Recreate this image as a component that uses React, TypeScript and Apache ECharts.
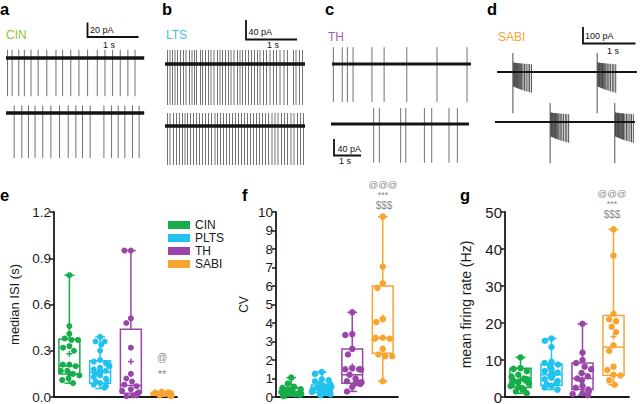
import React, { useEffect, useRef } from 'react';
import * as echarts from 'echarts';

const FONT = '"Liberation Sans", Arial, Helvetica, sans-serif';

const groups = ['CIN', 'PLTS', 'TH', 'SABI'];
const groupColors = ['#17ad4a', '#22c2ee', '#9a45a8', '#f8a431'];

// ---------- traces: spike times (s) ----------
const cinTopSpikes = [0.03, 0.12, 0.25, 0.36, 0.49, 0.63, 0.8, 0.98, 1.11, 1.27, 1.43, 1.6, 1.79, 1.94, 2.09, 2.24, 2.39, 2.53];
const cinBottomSpikes = [0.16, 0.31, 0.44, 0.57, 0.72, 0.88, 1.05, 1.22, 1.37, 1.5, 1.65, 1.92, 2.07, 2.2, 2.33, 2.48, 2.61];
const ltsTopSpikes = [0.05, 0.1, 0.15, 0.2, 0.25, 0.31, 0.37, 0.42, 0.49, 0.54, 0.59, 0.63, 0.71, 0.75, 0.81, 0.87, 0.92, 0.98, 1.05, 1.1, 1.15, 1.21, 1.27, 1.32, 1.38, 1.45, 1.5, 1.55, 1.61, 1.67, 1.73, 1.79, 1.85, 1.9, 1.97, 2.03, 2.1, 2.17, 2.23, 2.3, 2.38, 2.45, 2.57, 2.62, 2.69, 2.75];
const ltsBottomSpikes = [0.05, 0.1, 0.17, 0.23, 0.29, 0.35, 0.4, 0.45, 0.51, 0.57, 0.63, 0.69, 0.75, 0.81, 0.87, 0.93, 1.0, 1.05, 1.11, 1.17, 1.23, 1.29, 1.35, 1.41, 1.47, 1.53, 1.59, 1.65, 1.71, 1.77, 1.83, 1.89, 1.95, 2.01, 2.07, 2.14, 2.2, 2.26, 2.33, 2.39, 2.45, 2.52, 2.58, 2.65, 2.71, 2.77];
const thTopSpikes = [0.05, 0.38, 0.57, 0.78, 1.48, 1.93, 2.77, 3.89, 5.0];
const thBottomSpikes = [1.58, 1.79, 2.58, 2.77, 3.46, 3.73, 4.37, 4.68];
const sabiTopBursts = [0.3, 1.89];
const sabiBottomBursts = [1.04, 2.26];
const burstOffsets = [0, 0.014, 0.028, 0.042, 0.056, 0.07, 0.085, 0.1, 0.115, 0.13, 0.147, 0.165, 0.19, 0.22, 0.25, 0.285, 0.315, 0.35];
const burstUp = [115, 58, 57, 56, 55, 55, 54, 54, 53, 53, 52, 52, 51, 50, 50, 49, 48, 47];
const burstDown = [250, 88, 90, 92, 94, 96, 98, 100, 102, 104, 106, 108, 111, 114, 117, 120, 123, 126];
// spike amplitude (pA) for a-c traces: up / down
const traceUp = [11, 10, 28, 26, 42, 40];
const traceDown = [51, 60, 82, 78, 95, 97];
const traceDur = [2.71, 2.71, 2.8, 2.8, 5.15, 5.11, 2.64, 2.64];

// ---------- e: median ISI (s) ----------
const isiCIN = [0.79, 0.46, 0.41, 0.38, 0.37, 0.37, 0.33, 0.32, 0.3, 0.21, 0.21, 0.2, 0.17, 0.17, 0.15, 0.15, 0.14, 0.12, 0.11, 0.09];
const isiPLTS = [0.39, 0.36, 0.36, 0.34, 0.3, 0.24, 0.23, 0.22, 0.21, 0.2, 0.19, 0.18, 0.17, 0.16, 0.16, 0.15, 0.14, 0.13, 0.12, 0.11, 0.1, 0.09, 0.08, 0.07, 0.06];
const isiTH = [0.95, 0.95, 0.51, 0.48, 0.32, 0.15, 0.12, 0.1, 0.08, 0.07, 0.05, 0.04, 0.03, 0.02, 0.02, 0.01, 0.01, 0.005];
const isiSABI = [0.035, 0.03, 0.03, 0.028, 0.025, 0.02, 0.02, 0.018, 0.015, 0.012, 0.01, 0.01, 0.008, 0.005];
// [min, q1, median, q3, max, mean]
const isiBox = [
  [0.09, 0.15, 0.2, 0.375, 0.79, 0.28],
  [0.055, 0.09, 0.16, 0.235, 0.39, 0.175],
  [0.005, 0.025, 0.075, 0.44, 0.95, 0.23],
  [0.005, 0.012, 0.02, 0.03, 0.035, 0.02],
];

// ---------- f: CV ----------
const cvCIN = [1.05, 0.72, 0.55, 0.48, 0.42, 0.4, 0.36, 0.34, 0.3, 0.28, 0.27, 0.25, 0.22, 0.2, 0.18, 0.15, 0.12, 0.08, 0.05];
const cvPLTS = [1.35, 1.25, 0.95, 0.9, 0.85, 0.7, 0.68, 0.62, 0.6, 0.55, 0.5, 0.48, 0.45, 0.42, 0.4, 0.38, 0.35, 0.3, 0.28, 0.25, 0.22, 0.2, 0.15, 0.1];
const cvTH = [4.58, 3.4, 3.35, 2.6, 2.3, 1.55, 1.5, 1.5, 1.48, 1.2, 1.0, 0.85, 0.8, 0.78, 0.75, 0.7, 0.55, 0.3];
const cvSABI = [9.75, 7.05, 6.15, 5.9, 4.2, 4.05, 3.2, 3.2, 3.15, 3.15, 2.6, 2.3, 2.2, 2.2, 0.85];
const cvBox = [
  [0.05, 0.2, 0.3, 0.5, 1.05, 0.37],
  [0.1, 0.25, 0.45, 0.65, 1.35, 0.55],
  [0.3, 0.75, 1.2, 2.6, 4.58, 1.65],
  [0.85, 2.37, 3.2, 6.0, 9.75, 4.3],
];

// ---------- g: mean firing rate (Hz) ----------
const frCIN = [10.7, 7.8, 7.6, 7.0, 6.0, 5.5, 5.0, 4.8, 4.5, 4.3, 4.0, 3.6, 3.3, 3.0, 2.7, 2.4, 2.0, 1.5, 1.0];
const frPLTS = [15.8, 15.2, 13.5, 9.5, 9.2, 8.8, 8.5, 8.0, 7.5, 7.0, 6.6, 6.2, 6.0, 5.7, 5.2, 4.8, 4.3, 3.8, 3.4, 3.0, 2.6, 2.0];
const frTH = [19.8, 12.0, 10.0, 9.2, 8.2, 7.5, 6.5, 5.6, 5.0, 4.5, 3.0, 2.5, 2.0, 1.5, 1.0, 0.8, 0.5];
const frSABI = [45.3, 38.2, 22.5, 21.0, 20.5, 19.0, 17.5, 14.0, 12.5, 8.2, 7.3, 6.0, 5.8, 4.5, 3.3];
const frBox = [
  [1.0, 2.6, 4.5, 7.8, 10.7, 4.8],
  [2.0, 3.2, 6.0, 8.9, 15.8, 6.8],
  [0.5, 2.0, 5.0, 9.2, 19.8, 6.3],
  [3.3, 5.9, 13.5, 22.0, 45.3, 16.3],
];

// ---------- layout ----------
const traceLayout = [
  { left: 6, top: 44, bottom: 100, baseY: 58, pxPerSec: 51, pxPerUnit: 0.75, base: 3.5, spike: '#626262' },
  { left: 6, top: 100, bottom: 162, baseY: 113, pxPerSec: 51, pxPerUnit: 0.75, base: 3.5, spike: '#626262' },
  { left: 165, top: 44, bottom: 110, baseY: 64, pxPerSec: 50, pxPerUnit: 0.5, base: 3.5, spike: '#626262' },
  { left: 165, top: 110, bottom: 168, baseY: 126, pxPerSec: 50, pxPerUnit: 0.5, base: 3.5, spike: '#626262' },
  { left: 332, top: 44, bottom: 105, baseY: 64, pxPerSec: 27, pxPerUnit: 0.4, base: 3, spike: '#626262' },
  { left: 331, top: 105, bottom: 166, baseY: 124, pxPerSec: 27, pxPerUnit: 0.4, base: 3, spike: '#626262' },
  { left: 497, top: 50, bottom: 117, baseY: 72, pxPerSec: 53, pxPerUnit: 0.165, base: 2, spike: '#3a3a3a' },
  { left: 495, top: 98, bottom: 166, baseY: 122, pxPerSec: 53, pxPerUnit: 0.165, base: 2, spike: '#3a3a3a' },
];

const panelLayout = [
  { left: 54, top: 212, width: 123, height: 185, labelSize: 13.5, nameSize: 13, nameGap: 33, symbol: 6 },
  { left: 276, top: 212, width: 122, height: 185, labelSize: 13.5, nameSize: 12, nameGap: 26, symbol: 6.5 },
  { left: 505, top: 212, width: 124, height: 185, labelSize: 15, nameSize: 14, nameGap: 32, symbol: 6.5 },
];

function App() {
  const ref = useRef<HTMLDivElement>(null);
  useEffect(() => {
    if (!ref.current) return;
    const chart = echarts.init(ref.current, undefined, { renderer: 'svg' });

    const burstSpikes = (onsets: number[]) =>
      onsets.flatMap((b) => burstOffsets.map((o, i) => [b + o, burstUp[i], -burstDown[i]]));
    const simple = (arr: number[], k: number) => arr.map((t) => [t, traceUp[k], -traceDown[k]]);
    const spikeSets = [
      simple(cinTopSpikes, 0),
      simple(cinBottomSpikes, 1),
      simple(ltsTopSpikes, 2),
      simple(ltsBottomSpikes, 3),
      simple(thTopSpikes, 4),
      simple(thBottomSpikes, 5),
      burstSpikes(sabiTopBursts),
      burstSpikes(sabiBottomBursts),
    ];

    const grids: any[] = [];
    const xAxes: any[] = [];
    const yAxes: any[] = [];
    const series: any[] = [];

    traceLayout.forEach((L, i) => {
      const dur = traceDur[i];
      grids.push({ left: L.left, top: L.top, width: dur * L.pxPerSec, height: L.bottom - L.top, outerBoundsMode: 'none' });
      xAxes.push({ type: 'value', gridIndex: i, min: 0, max: dur, show: false });
      yAxes.push({
        type: 'value', gridIndex: i, show: false,
        min: -(L.bottom - L.baseY) / L.pxPerUnit, max: (L.baseY - L.top) / L.pxPerUnit,
      });
      series.push({
        type: 'custom', xAxisIndex: i, yAxisIndex: i, silent: true, z: 2,
        encode: { x: 0, y: [1, 2] },
        data: spikeSets[i],
        renderItem: (params: any, api: any) => {
          const t = api.value(0);
          const p1 = api.coord([t, api.value(1)]);
          const p2 = api.coord([t, api.value(2)]);
          return {
            type: 'line',
            shape: { x1: p1[0], y1: p1[1], x2: p2[0], y2: p2[1] },
            style: { stroke: L.spike, lineWidth: 0.9 },
          };
        },
      });
      series.push({
        type: 'line', xAxisIndex: i, yAxisIndex: i, silent: true, z: 3,
        symbol: 'none', data: [[0, 0], [dur, 0]],
        lineStyle: { color: '#151515', width: L.base },
      });
    });

    const panelPoints = [
      [isiCIN, isiPLTS, isiTH, isiSABI],
      [cvCIN, cvPLTS, cvTH, cvSABI],
      [frCIN, frPLTS, frTH, frSABI],
    ];
    const panelBox = [isiBox, cvBox, frBox];
    const panelY = [
      { min: 0, max: 1.2, interval: 0.3, name: 'median ISI (s)', fmt: (v: number) => v.toFixed(1) },
      { min: 0, max: 10, interval: 1, name: 'CV', fmt: (v: number) => String(v) },
      { min: 0, max: 50, interval: 10, name: 'mean firing rate (Hz)', fmt: (v: number) => String(v) },
    ];

    panelLayout.forEach((P, k) => {
      const gi = traceLayout.length + k;
      grids.push({ left: P.left, top: P.top, width: P.width, height: P.height, outerBoundsMode: 'none' });
      xAxes.push({
        type: 'category', gridIndex: gi, data: groups, boundaryGap: true,
        axisLine: { show: true, lineStyle: { color: '#1a1a1a', width: 1.8 } },
        axisTick: { show: false }, axisLabel: { show: false }, splitLine: { show: false },
        jitter: 20, jitterOverlap: false, jitterMargin: 0.5,
      });
      const Y = panelY[k];
      yAxes.push({
        type: 'value', gridIndex: gi, min: Y.min, max: Y.max, interval: Y.interval,
        name: Y.name, nameLocation: 'middle', nameGap: P.nameGap,
        nameTextStyle: { fontSize: P.nameSize, color: '#1a1a1a', fontFamily: FONT },
        axisLine: { show: true, lineStyle: { color: '#1a1a1a', width: 1.8 } },
        axisTick: { show: true, length: 4, lineStyle: { color: '#1a1a1a', width: 1.5 } },
        axisLabel: { fontSize: P.labelSize, color: '#1a1a1a', margin: 3, fontFamily: FONT, formatter: Y.fmt },
        splitLine: { show: false },
      });
      groups.forEach((g, j) => {
        const color = groupColors[j];
        series.push({
          type: 'custom', name: g, xAxisIndex: gi, yAxisIndex: gi, silent: true, z: 2,
          itemStyle: { color },
          encode: { x: 0, y: [1, 2, 3, 4, 5, 6] },
          data: [[j, ...panelBox[k][j]]],
          renderItem: (params: any, api: any) => {
            const c = api.value(0);
            const band = api.size([1, 0])[0];
            const cx = api.coord([c, 0])[0];
            const y = (d: number) => api.coord([c, api.value(d)])[1];
            const yMin = y(1), yQ1 = y(2), yMed = y(3), yQ3 = y(4), yMax = y(5), yMean = y(6);
            const hw = band * 0.34, cw = band * 0.16;
            const st = { stroke: color, lineWidth: 1.5, fill: 'transparent' };
            return {
              type: 'group',
              children: [
                { type: 'line', shape: { x1: cx, y1: yMax, x2: cx, y2: yQ3 }, style: st },
                { type: 'line', shape: { x1: cx, y1: yQ1, x2: cx, y2: yMin }, style: st },
                { type: 'line', shape: { x1: cx - cw, y1: yMax, x2: cx + cw, y2: yMax }, style: st },
                { type: 'line', shape: { x1: cx - cw, y1: yMin, x2: cx + cw, y2: yMin }, style: st },
                { type: 'rect', shape: { x: cx - hw, y: yQ3, width: 2 * hw, height: yQ1 - yQ3 }, style: st },
                { type: 'line', shape: { x1: cx - hw, y1: yMed, x2: cx + hw, y2: yMed }, style: st },
                { type: 'line', shape: { x1: cx - 3, y1: yMean, x2: cx + 3, y2: yMean }, style: st },
                { type: 'line', shape: { x1: cx, y1: yMean - 3, x2: cx, y2: yMean + 3 }, style: st },
              ],
            };
          },
        });
        series.push({
          type: 'scatter', name: g, xAxisIndex: gi, yAxisIndex: gi, silent: true, z: 3,
          symbol: 'circle', symbolSize: P.symbol,
          itemStyle: { color, opacity: 1 },
          data: panelPoints[k][j].map((v) => [j, v]),
        });
      });
    });

    const txt = (text: string, x: number, y: number, size: number, color: string, weight = 'normal', align = 'left') => ({
      type: 'text', silent: true,
      style: { text, x, y, fill: color, font: `${weight} ${size}px ${FONT}`, align, verticalAlign: 'middle' },
    });
    const bar = (pts: number[][]) => ({
      type: 'polyline', silent: true,
      shape: { points: pts },
      style: { stroke: '#111', lineWidth: 1.8, fill: 'none' },
    });
    const gray = '#8a8a8a';
    const graphic = [
      txt('a', 0, 8.5, 16.5, '#000', 'bold'),
      txt('b', 162, 8.5, 16.5, '#000', 'bold'),
      txt('c', 325, 8.5, 16.5, '#000', 'bold'),
      txt('d', 487, 8.5, 16.5, '#000', 'bold'),
      txt('e', 0, 195, 16.5, '#000', 'bold'),
      txt('f', 242, 195, 16.5, '#000', 'bold'),
      txt('g', 460, 195, 16.5, '#000', 'bold'),
      txt('CIN', 6, 35, 12, '#8cc63e'),
      txt('LTS', 166, 35, 12, '#3cc4d8'),
      txt('TH', 328, 37, 12, '#a45cb8'),
      txt('SABI', 498, 37, 12, '#f5a535'),
      bar([[87.5, 22.5], [87.5, 37], [138.5, 37]]),
      txt('20 pA', 90, 30, 9, '#111'),
      txt('1 s', 103, 44.5, 9, '#111'),
      bar([[246, 20], [246, 39.5], [297, 39.5]]),
      txt('40 pA', 248.5, 32, 9, '#111'),
      txt('1 s', 267, 45, 9, '#111'),
      bar([[334, 139], [334, 155.5], [361, 155.5]]),
      txt('40 pA', 337.5, 148.5, 9, '#111'),
      txt('1 s', 339, 160.5, 9, '#111'),
      bar([[583, 27], [583, 43.5], [635.5, 43.5]]),
      txt('100 pA', 585, 36, 9, '#111'),
      txt('1 s', 607, 50.5, 9, '#111'),
      txt('@', 162, 357.5, 10, gray, 'normal', 'center'),
      txt('**', 162, 374, 11, gray, 'normal', 'center'),
      txt('@@@', 383, 184, 9.5, gray, 'normal', 'center'),
      txt('***', 383, 194.5, 9, gray, 'normal', 'center'),
      txt('$$$', 384, 205, 10, gray, 'normal', 'center'),
      txt('@@@', 612, 193.5, 9.5, gray, 'normal', 'center'),
      txt('***', 612, 204, 9, gray, 'normal', 'center'),
      txt('$$$', 612, 214.5, 10, gray, 'normal', 'center'),
    ];

    chart.setOption({
      animation: false,
      backgroundColor: '#ffffff',
      textStyle: { fontFamily: FONT },
      legend: {
        data: groups, orient: 'vertical', left: 168, top: 219, padding: 0,
        itemWidth: 22, itemHeight: 8, itemGap: 1, icon: 'rect', selectedMode: false,
        textStyle: { fontSize: 12, color: '#1a1a1a', fontFamily: FONT },
      },
      grid: grids,
      xAxis: xAxes,
      yAxis: yAxes,
      series,
      graphic,
    });
    return () => chart.dispose();
  }, []);
  return <div ref={ref} style={{ position: 'fixed', left: 0, top: 0, width: 640, height: 404, background: '#fff' }} />;
}

export default App;
